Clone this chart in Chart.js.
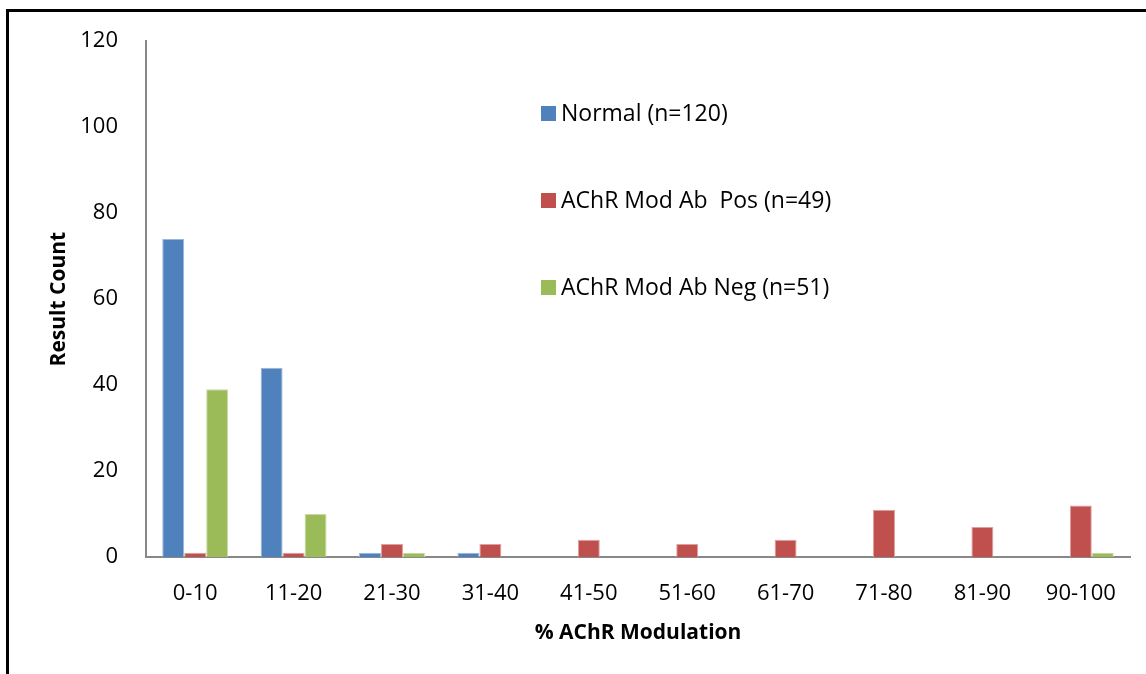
<!DOCTYPE html>
<html>
<head>
<meta charset="utf-8">
<script src="https://cdn.jsdelivr.net/npm/chart.js@4/dist/chart.umd.min.js"></script>
<style>
  html, body { margin: 0; padding: 0; background: #fff; }
  #wrap { position: relative; width: 1146px; height: 674px; }
  #frame { position: absolute; left: 6px; top: 9px; right: 0; bottom: 0;
           border-top: 3px solid #000; border-left: 3px solid #000; pointer-events: none; }
  canvas { position: absolute; left: 0; top: 0; }
</style>
</head>
<body>
<div id="wrap">
  <canvas id="c" width="1146" height="674"></canvas>
  <div id="frame"></div>
</div>
<script>
const categories = ['0-10','11-20','21-30','31-40','41-50','51-60','61-70','71-80','81-90','90-100'];
const normalCounts = [74, 44, 1, 1, 0, 0, 0, 0, 0, 0];
const posCounts    = [1, 1, 3, 3, 4, 3, 4, 11, 7, 12];
const negCounts    = [39, 10, 1, 0, 0, 0, 0, 0, 0, 1];
const seriesNames  = ['Normal (n=120)', 'AChR Mod Ab  Pos (n=49)', 'AChR Mod Ab Neg (n=51)'];
const yTicks = [0, 20, 40, 60, 80, 100, 120];

const FONT = '"Open Sans", "Liberation Sans", sans-serif';
const colors = ['#4F81BD', '#C0504D', '#9BBB59'];
const edges  = ['#9ab7dc', '#e0a09e', '#c9dca6'];

function ds(label, data, i) {
  return {
    label, data,
    backgroundColor: colors[i],
    borderColor: edges[i],
    borderWidth: ctx => (ctx.raw ? 1 : 0),
    barPercentage: 1.0,
    categoryPercentage: 0.67
  };
}

const legendPlugin = {
  id: 'customLegend',
  afterDraw(chart) {
    const ctx = chart.ctx;
    const ys = [113, 200, 287];
    ctx.save();
    ctx.font = '23px ' + FONT;
    ctx.textBaseline = 'middle';
    ctx.textAlign = 'left';
    seriesNames.forEach((name, i) => {
      ctx.fillStyle = colors[i];
      ctx.fillRect(541, ys[i] - 7, 15, 15);
      ctx.fillStyle = '#000';
      ctx.fillText(name, 561, ys[i] + 1);
    });
    ctx.restore();
  }
};

new Chart(document.getElementById('c'), {
  type: 'bar',
  data: {
    labels: categories,
    datasets: [
      ds(seriesNames[0], normalCounts, 0),
      ds(seriesNames[1], posCounts, 1),
      ds(seriesNames[2], negCounts, 2)
    ]
  },
  options: {
    responsive: false,
    animation: false,
    devicePixelRatio: 1,
    layout: { padding: { left: 0, right: 16, top: 39, bottom: 0 } },
    plugins: { legend: { display: false }, tooltip: { enabled: false } },
    scales: {
      x: {
        grid: { display: false, drawTicks: false },
        border: { display: true, color: '#888', width: 2 },
        ticks: { color: '#000', font: { family: FONT, size: 22 }, padding: 24, maxRotation: 0 },
        title: { display: true, text: '% AChR Modulation', color: '#000',
                 font: { family: FONT, size: 21, weight: 'bold' }, padding: { top: 4, bottom: 28 } },
        afterFit(scale) { scale.height = 674 - 557; }
      },
      y: {
        min: 0, max: 120,
        afterBuildTicks(scale) { scale.ticks = yTicks.map(v => ({ value: v })); },
        grid: { display: false, drawTicks: false },
        border: { display: true, color: '#888', width: 2 },
        ticks: { color: '#000', font: { family: FONT, size: 22 }, padding: 28 },
        title: { display: true, text: 'Result Count', color: '#000',
                 font: { family: FONT, size: 21, weight: 'bold' }, padding: { top: 46, bottom: 0 } },
        afterFit(scale) { scale.width = 146; }
      }
    }
  },
  plugins: [legendPlugin]
});
</script>
</body>
</html>
